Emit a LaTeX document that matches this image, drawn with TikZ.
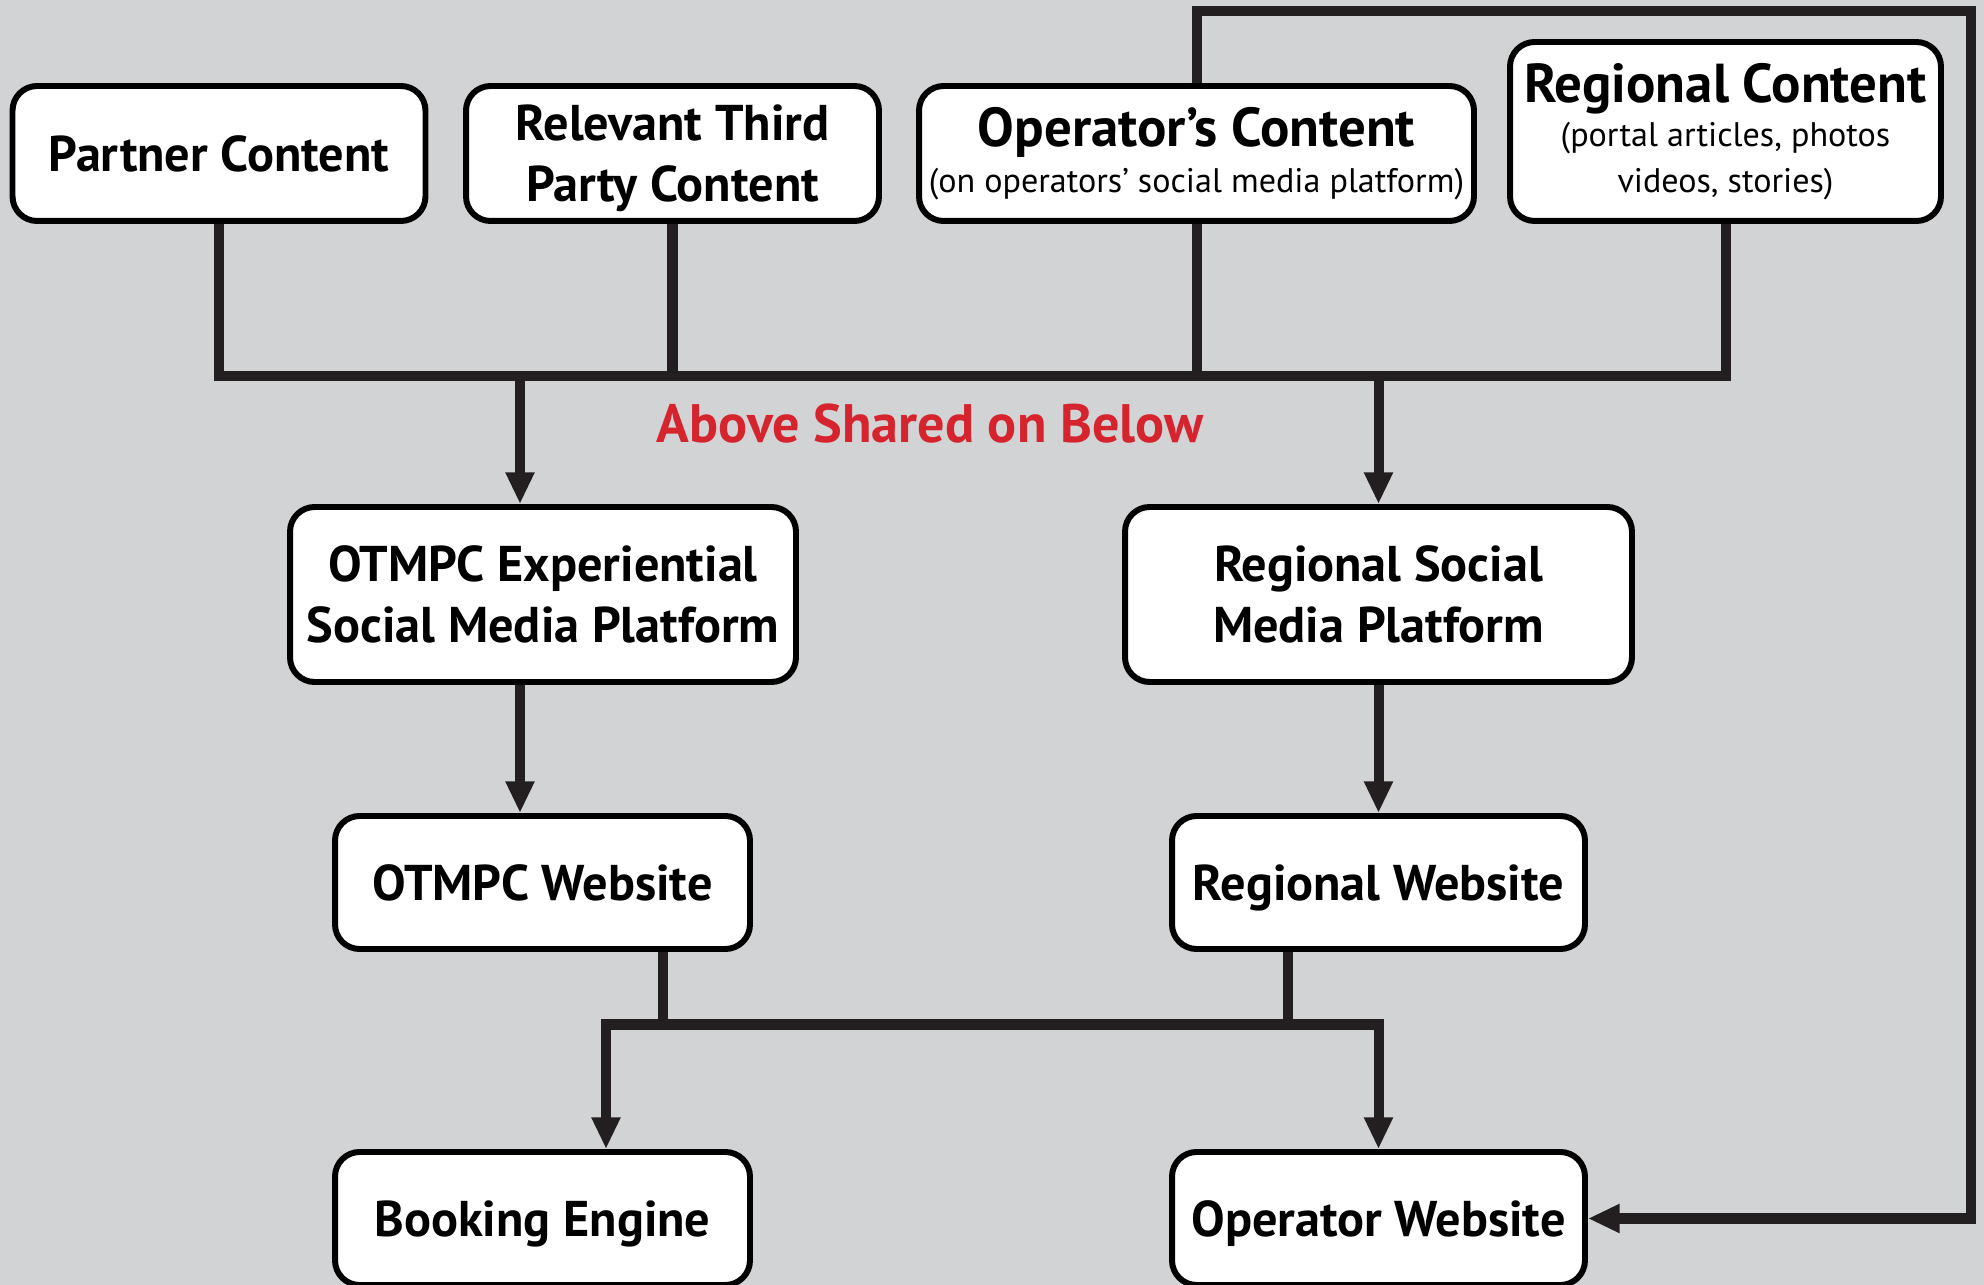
\documentclass[tikz,border=0pt]{standalone}
\usepackage{fontspec}
\setmainfont{PT Sans}
\usetikzlibrary{arrows.meta, backgrounds}
\definecolor{panelgray}{RGB}{209,211,212}
\definecolor{linkblack}{RGB}{35,31,32}
\definecolor{sharedred}{RGB}{214,36,46}
\newcommand{\notefont}{\mdseries\fontsize{9.7}{12.9}\selectfont}

\begin{document}
\begin{tikzpicture}[x=0.1cm, y=-0.1cm,
    box/.style={draw=black, fill=white, line width=1.7pt, rounded corners=7pt,
      align=center, inner sep=0pt, font=\fontsize{14.3}{17.3}\selectfont\bfseries},
    onebox/.style={box, text height=10pt, text depth=0pt},
    headbox/.style={box, font=\fontsize{15.6}{12.9}\selectfont\bfseries},
    feed/.style={draw=linkblack, line width=2.85pt},
    push/.style={feed, -{Triangle[length=9pt, width=7.7pt]}}]
    \fill[panelgray] (0,0) rectangle (198.4,128.5);
    \useasboundingbox (0,0) rectangle (198.4,128.5);

    % Content Sources
    \node[onebox, minimum width=41.3mm, minimum height=13.5mm] (partner) at (21.9,15.35) {Partner Content};
    \node[box, text depth=0pt, minimum width=41.3mm, minimum height=13.5mm] (third) at (67.25,15.35) {Relevant Third\\Party Content};
    \node[headbox, minimum width=55.5mm, minimum height=13.5mm] (opcont) at (119.65,15.35)
        {Operator's Content\\[0.2pt]\notefont (on operators' social media platform)};
    \node[headbox, minimum width=43.1mm, minimum height=17.9mm] (regcont) at (172.55,13.15)
        {Regional Content\\[-0.3pt]\notefont (portal articles, photos\\\notefont videos, stories)};

    % Shared Platforms
    \node[font=\fontsize{15.4}{18}\selectfont\bfseries, text=sharedred] (shared) at (93,42.4) {Above Shared on Below};
    \node[box, minimum width=50.6mm, minimum height=17.5mm] (otmpcsm) at (54.3,59.45) {OTMPC Experiential\\Social Media Platform};
    \node[box, minimum width=50.7mm, minimum height=17.5mm] (regsm) at (137.85,59.45) {Regional Social\\Media Platform};

    % Websites
    \node[onebox, minimum width=41.5mm, minimum height=13.3mm] (otmpcweb) at (54.25,88.25) {OTMPC Website};
    \node[onebox, minimum width=41.3mm, minimum height=13.3mm] (regweb) at (137.85,88.25) {Regional Website};
    \node[onebox, minimum width=41.5mm, minimum height=13.3mm] (booking) at (54.25,121.85) {Booking Engine};
    \node[onebox, minimum width=41.3mm, minimum height=13.3mm] (opweb) at (137.85,121.85) {Operator Website};

    % Bus Lines
    \coordinate (topbus) at (0,37.6);
    \coordinate (lowbus) at (0,102.45);
    \coordinate (leftline) at (52,0);
    \coordinate (webL) at (66.3,0);
    \coordinate (webR) at (128.8,0);
    \coordinate (bookL) at (60.6,0);
    \coordinate (loopcorner) at (197.1,1.1);

    \draw[feed] (partner.south) |- (regcont.south |- topbus) -- (regcont.south);
    \draw[feed] (third.south) -- (third.south |- topbus);
    \draw[feed] (opcont.south) -- (opcont.south |- topbus);
    \draw[push] (leftline |- topbus) -- (leftline |- otmpcsm.north);
    \draw[push] (regsm.north |- topbus) -- (regsm.north);

    \draw[push] (leftline |- otmpcsm.south) -- (leftline |- otmpcweb.north);
    \draw[push] (regsm.south) -- (regweb.north);

    \draw[feed] (webL |- otmpcweb.south) -- (webL |- lowbus);
    \draw[feed] (webR |- regweb.south) -- (webR |- lowbus);
    \draw[push] (webR |- lowbus) -| (bookL |- booking.north);
    \draw[push] (webR |- lowbus) -| (opweb.north);

    % Operator Loop
    \draw[push] (opcont.north) |- (loopcorner) |- (opweb.east);
\end{tikzpicture}
\end{document}
